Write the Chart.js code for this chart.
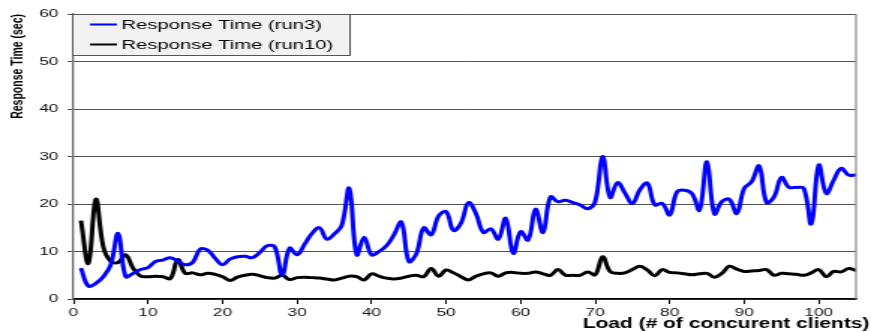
<!DOCTYPE html>
<html>
<head>
<meta charset="utf-8">
<script src="https://cdn.jsdelivr.net/npm/chart.js@4.4.1/dist/chart.umd.min.js"></script>
<style>
  html, body { margin: 0; padding: 0; background: #ffffff; overflow: hidden; }
  /* the source picture is stretched sideways, so the chart is drawn narrow and scaled */
  #wrap { width: 581px; height: 332px; transform: scaleX(1.4991); transform-origin: 0 0; }
</style>
</head>
<body>
<div id="wrap"><canvas id="rt-chart"></canvas></div>
<script>
// 🎯 Data
const loads = [
  1, 2, 3, 4, 5, 6, 7, 8, 9, 10, 11, 12, 13, 14, 15, 16, 17, 18, 19, 20,
  21, 22, 23, 24, 25, 26, 27, 28, 29, 30, 31, 32, 33, 34, 35, 36, 37, 38, 39, 40,
  41, 42, 43, 44, 45, 46, 47, 48, 49, 50, 51, 52, 53, 54, 55, 56, 57, 58, 59, 60,
  61, 62, 63, 64, 65, 66, 67, 68, 69, 70, 71, 72, 73, 74, 75, 76, 77, 78, 79, 80,
  81, 82, 83, 84, 85, 86, 87, 88, 89, 90, 91, 92, 93, 94, 95, 96, 97, 98, 99, 100,
  101, 102, 103, 104, 105
];

const run3Times = [
  6.5, 2.7, 3.3, 4.7, 7.2, 13.8, 4.7, 5.4, 6.2, 6.6,
  7.9, 8.2, 8.7, 8.0, 7.2, 7.7, 10.5, 10.3, 8.6, 7.2,
  8.4, 8.9, 9.0, 8.7, 9.8, 11.2, 11.0, 5.0, 10.7, 9.3,
  11.5, 13.8, 15.0, 12.6, 13.7, 15.5, 23.3, 9.3, 13.0, 9.3,
  10.0, 11.2, 13.5, 16.2, 7.9, 9.5, 15.0, 13.5, 17.5, 18.4,
  14.4, 16.0, 20.3, 18.0, 14.0, 14.8, 12.6, 17.0, 9.6, 14.2,
  12.4, 18.9, 14.0, 21.5, 20.5, 20.8, 20.3, 19.8, 19.0, 20.5,
  30.0, 21.4, 24.5, 22.3, 20.1, 23.0, 24.4, 19.8, 20.1, 17.7,
  22.6, 22.9, 22.2, 18.7, 28.9, 17.9, 20.5, 21.0, 18.0, 23.3,
  24.7, 28.0, 20.3, 21.5, 25.6, 23.5, 23.5, 23.3, 15.8, 28.2,
  22.2, 25.0, 27.5, 26.1, 26.1
];

const run10Times = [
  16.5, 7.5, 21.0, 11.0, 7.9, 7.7, 9.3, 6.5, 4.8, 4.7,
  4.8, 4.7, 4.3, 8.3, 5.4, 5.5, 5.1, 5.4, 5.2, 4.7,
  3.9, 4.6, 5.0, 5.2, 4.9, 4.5, 4.4, 5.0, 4.1, 4.5,
  4.6, 4.5, 4.4, 4.2, 4.0, 4.4, 4.8, 4.7, 4.0, 5.3,
  4.8, 4.4, 4.2, 4.4, 4.8, 5.0, 4.7, 6.4, 4.8, 6.1,
  5.5, 4.7, 4.0, 4.8, 5.3, 5.5, 4.8, 5.5, 5.6, 5.4,
  5.4, 5.7, 5.3, 5.0, 6.2, 5.0, 5.0, 5.0, 5.7, 5.1,
  8.9, 5.8, 5.4, 5.5, 6.2, 6.9, 6.1, 4.9, 6.2, 5.6,
  5.5, 5.3, 5.1, 5.3, 5.4, 4.6, 5.4, 6.9, 6.3, 5.8,
  5.9, 6.0, 6.2, 5.0, 5.4, 5.3, 5.2, 5.0, 5.5, 6.2,
  4.7, 5.8, 5.7, 6.4, 6.0
];

const seriesNames = ['Response Time (run3)', 'Response Time (run10)'];
const seriesColors = ['#0000ff', '#000000'];

const FONT = '"Liberation Sans", Arial, sans-serif';

// 🛠️ Legend box inside the plot + right frame line + x axis title
const framePlugin = {
  id: 'frame',
  afterDraw(chart) {
    const ctx = chart.ctx;
    const area = chart.chartArea;
    ctx.save();

    // right border of the plot
    ctx.strokeStyle = '#888888';
    ctx.lineWidth = 1.2;
    ctx.beginPath();
    ctx.moveTo(area.right, area.top);
    ctx.lineTo(area.right, area.bottom);
    ctx.stroke();

    // legend
    const boxX = area.left - 1, boxY = area.top, boxW = 185, boxH = 41;
    ctx.fillStyle = '#f2f2f2';
    ctx.fillRect(boxX, boxY, boxW, boxH);
    ctx.strokeStyle = '#555555';
    ctx.lineWidth = 1;
    ctx.strokeRect(boxX + 0.5, boxY + 0.5, boxW, boxH);
    ctx.font = '13.5px ' + FONT;
    ctx.textBaseline = 'middle';
    ctx.textAlign = 'left';
    chart.data.datasets.forEach((ds, i) => {
      const rowY = boxY + 10.5 + i * 20;
      ctx.strokeStyle = ds.borderColor;
      ctx.lineWidth = 2;
      ctx.beginPath();
      ctx.moveTo(boxX + 12, rowY);
      ctx.lineTo(boxX + 30, rowY);
      ctx.stroke();
      ctx.fillStyle = '#000000';
      ctx.fillText(ds.label, boxX + 33, rowY + 1);
    });

    // x axis title sits at the bottom right, past the plot edge
    ctx.font = 'bold 14px ' + FONT;
    ctx.textAlign = 'right';
    ctx.textBaseline = 'alphabetic';
    ctx.fillStyle = '#000000';
    ctx.fillText('Load (# of concurent clients)', chart.width - 1, 328);

    ctx.restore();
  }
};

window.addEventListener('DOMContentLoaded', () => {
  const ctx = document.getElementById('rt-chart');

  new Chart(ctx, {
    type: 'line',
    data: {
      labels: loads,
      datasets: [
        { label: seriesNames[0], data: run3Times, borderColor: seriesColors[0], borderWidth: 3, tension: 0.4, pointRadius: 0, fill: false },
        { label: seriesNames[1], data: run10Times, borderColor: seriesColors[1], borderWidth: 3, tension: 0.4, pointRadius: 0, fill: false }
      ]
    },
    options: {
      responsive: true,
      maintainAspectRatio: false,
      animation: false,
      layout: { padding: { top: 14, right: 10, bottom: 0, left: 0 } },
      plugins: {
        legend: { display: false },
        tooltip: { enabled: false }
      },
      scales: {
        x: {
          type: 'linear',
          min: 0,
          max: 105,
          afterFit: (scale) => { scale.height = 33; },
          grid: { drawOnChartArea: false, drawTicks: true, tickLength: 5, color: '#000000' },
          border: { color: '#000000', width: 1.5 },
          ticks: { stepSize: 10, includeBounds: false, maxRotation: 0, padding: 2, color: '#111111', font: { family: FONT, size: 11.5 } }
        },
        y: {
          min: 0,
          max: 60,
          afterFit: (scale) => { scale.width = 49; },
          grid: { color: '#555555', lineWidth: 1, tickLength: 4 },
          border: { color: '#666666', width: 1.3 },
          ticks: { stepSize: 10, padding: 6, color: '#111111', font: { family: FONT, size: 11.5 } },
          title: {
            display: true,
            text: 'Response Time (sec)',
            align: 'end',
            color: '#000000',
            padding: { top: 6, bottom: 0 },
            font: { family: FONT, size: 10.5, weight: 'bold' }
          }
        }
      }
    },
    plugins: [framePlugin]
  });
});
</script>
</body>
</html>
